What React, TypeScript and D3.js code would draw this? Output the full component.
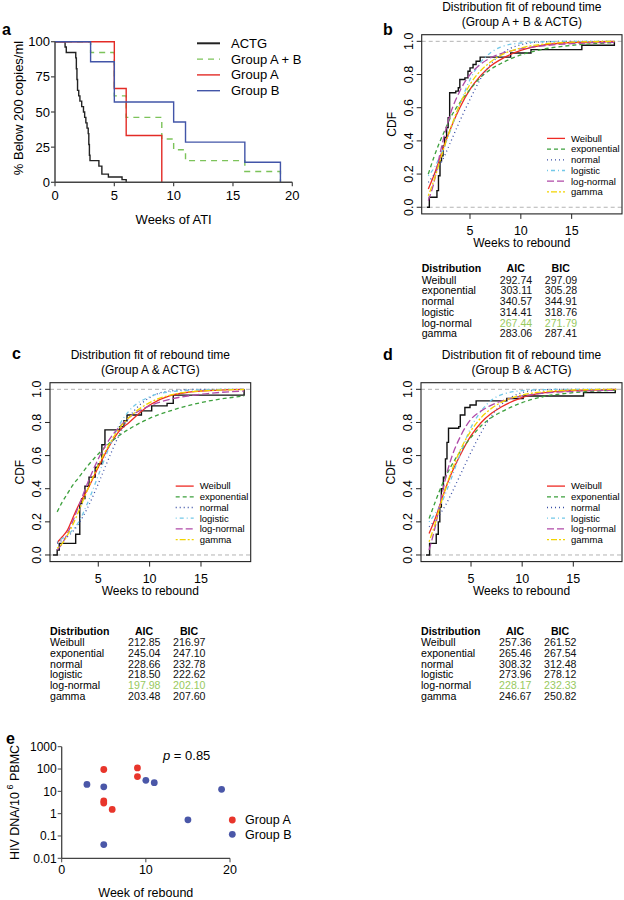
import React from "react";
import * as d3 from "d3";

const FONT = "'Liberation Sans', Arial, Helvetica, sans-serif";

// ---------- panel a : time to rebound (% below 200 copies/ml) ----------
const kmTicksX = [0, 5, 10, 15, 20];
const kmTicksY = [0, 25, 50, 75, 100];
const kmNames = ["ACTG", "Group A + B", "Group A", "Group B"];
const actgWeeks = [0, 0.85, 0.95, 1.75, 1.8, 1.85, 1.9, 2.0, 2.1, 2.25, 2.4, 2.5, 2.6, 2.7, 2.8, 2.85, 2.9, 2.95, 3.7, 3.95, 4.5, 5.65, 6.0];
const actgPct = [100, 96.2, 92.3, 88.5, 80.8, 73.1, 65.4, 61.5, 57.7, 53.8, 50, 46.2, 42.3, 38.5, 34.6, 26.9, 19.2, 15.4, 11.5, 5.8, 3.8, 1.9, 0];
const abWeeks = [0, 3, 5, 6, 9, 10, 11, 16, 19];
const abPct = [100, 92.3, 61.5, 46.2, 30.8, 23.1, 15.4, 7.7, 0];
const groupAWeeks = [0, 5, 6, 9];
const groupAPct = [100, 66.7, 33.3, 0];
const groupBWeeks = [0, 3, 5, 10, 11, 16, 19];
const groupBPct = [100, 85.7, 57.1, 42.9, 28.6, 14.3, 0];

// ---------- panels b, c, d : distribution fits ----------
const distNames = ["Weibull", "exponential", "normal", "logistic", "log-normal", "gamma"];
const cdfTicksY = [0, 0.2, 0.4, 0.6, 0.8, 1.0];
const cdfTicksX = [5, 10, 15];
const fitWeeks = [0.9, 1.5, 2, 2.5, 3, 4, 5, 6, 7, 8, 10, 12, 15, 19.2];
const fitWeeksC = [1, 1.5, 2, 2.5, 3, 4, 5, 6, 7, 8, 10, 12, 15, 19.2];

// b: Group A + B & ACTG
const ecdfWeeksB = [0.75, 1.0, 1.75, 1.9, 2.05, 2.2, 2.35, 2.5, 2.7, 2.85, 3.0, 3.6, 3.85, 4.0, 4.5, 4.8, 5.0, 5.3, 5.6, 6.0, 9.0, 11.0, 16.0, 19.2];
const ecdfB = [0, 0.06, 0.1, 0.19, 0.28, 0.31, 0.37, 0.42, 0.48, 0.54, 0.69, 0.7, 0.72, 0.77, 0.78, 0.82, 0.84, 0.86, 0.88, 0.905, 0.93, 0.95, 0.976, 1.0];
const weibullB = [0.11, 0.2, 0.29, 0.38, 0.46, 0.6, 0.71, 0.79, 0.85, 0.89, 0.945, 0.975, 0.993, 0.999];
const expB = [0.2, 0.31, 0.39, 0.46, 0.53, 0.63, 0.71, 0.78, 0.83, 0.865, 0.918, 0.95, 0.976, 0.992];
const normalB = [0.15, 0.2, 0.25, 0.31, 0.38, 0.52, 0.65, 0.77, 0.86, 0.92, 0.98, 0.996, 1, 1];
const logisticB = [0.19, 0.24, 0.3, 0.37, 0.45, 0.62, 0.77, 0.87, 0.93, 0.965, 0.99, 0.997, 1, 1];
const lognormB = [0.04, 0.16, 0.31, 0.44, 0.55, 0.7, 0.8, 0.86, 0.9, 0.925, 0.955, 0.972, 0.986, 0.994];
const gammaB = [0.07, 0.17, 0.27, 0.37, 0.46, 0.62, 0.74, 0.82, 0.875, 0.915, 0.96, 0.982, 0.995, 1];
const aicB = ["292.74", "303.11", "340.57", "314.41", "267.44", "283.06"];
const bicB = ["297.09", "305.28", "344.91", "318.76", "271.79", "287.41"];

// c: Group A & ACTG
const ecdfWeeksC = [0.6, 1.0, 1.2, 2.8, 3.2, 3.4, 3.7, 4.1, 4.7, 5.0, 5.35, 5.65, 7.1, 7.5, 7.8, 9.2, 10.2, 11.7, 12.3, 19.2];
const ecdfC = [0, 0.03, 0.07, 0.125, 0.31, 0.34, 0.415, 0.47, 0.53, 0.55, 0.665, 0.755, 0.775, 0.81, 0.845, 0.87, 0.9, 0.915, 0.965, 1.0];
const weibullC = [0.075, 0.11, 0.15, 0.22, 0.29, 0.4, 0.53, 0.65, 0.745, 0.8, 0.905, 0.962, 0.99, 1];
const expC = [0.26, 0.32, 0.37, 0.42, 0.46, 0.54, 0.61, 0.67, 0.72, 0.76, 0.825, 0.87, 0.92, 0.96];
const normalC = [0.07, 0.09, 0.11, 0.14, 0.18, 0.29, 0.43, 0.58, 0.72, 0.83, 0.95, 0.99, 1, 1];
const logisticC = [0.08, 0.1, 0.12, 0.15, 0.19, 0.32, 0.48, 0.64, 0.78, 0.87, 0.955, 0.985, 0.997, 1];
const lognormC = [0.03, 0.07, 0.13, 0.2, 0.28, 0.44, 0.58, 0.69, 0.77, 0.83, 0.9, 0.94, 0.97, 0.99];
const gammaC = [0.04, 0.07, 0.12, 0.18, 0.25, 0.4, 0.54, 0.66, 0.76, 0.83, 0.92, 0.965, 0.99, 0.999];
const aicC = ["212.85", "245.04", "228.66", "218.50", "197.98", "203.48"];
const bicC = ["216.97", "247.10", "232.78", "222.62", "202.10", "207.60"];

// d: Group B & ACTG
const ecdfWeeksD = [0.6, 0.95, 1.6, 1.8, 1.95, 2.1, 2.3, 2.5, 2.65, 2.8, 3.8, 3.95, 4.4, 4.9, 5.5, 8.5, 10.1, 16.0, 19.1];
const ecdfD = [0, 0.07, 0.125, 0.2, 0.29, 0.4, 0.47, 0.58, 0.68, 0.765, 0.775, 0.845, 0.89, 0.905, 0.93, 0.945, 0.96, 0.98, 1.0];
const weibullD = [0.13, 0.22, 0.31, 0.4, 0.48, 0.61, 0.72, 0.8, 0.855, 0.895, 0.95, 0.978, 0.993, 0.999];
const expD = [0.22, 0.32, 0.4, 0.47, 0.53, 0.63, 0.71, 0.78, 0.83, 0.865, 0.92, 0.955, 0.98, 0.994];
const normalD = [0.17, 0.21, 0.25, 0.3, 0.36, 0.49, 0.62, 0.74, 0.84, 0.91, 0.98, 0.997, 1, 1];
const logisticD = [0.2, 0.25, 0.3, 0.37, 0.45, 0.62, 0.77, 0.87, 0.935, 0.968, 0.992, 0.998, 1, 1];
const lognormD = [0.03, 0.17, 0.32, 0.46, 0.57, 0.72, 0.82, 0.87, 0.905, 0.93, 0.96, 0.976, 0.988, 0.995];
const gammaD = [0.08, 0.19, 0.3, 0.4, 0.49, 0.64, 0.75, 0.83, 0.885, 0.923, 0.966, 0.985, 0.996, 1];
const aicD = ["257.36", "265.46", "308.32", "273.96", "228.17", "246.67"];
const bicD = ["261.52", "267.54", "312.48", "278.12", "232.33", "250.82"];

// ---------- panel e : HIV DNA vs week of rebound ----------
const eTicksX = [0, 10, 20];
const eTicksY = [0.01, 0.1, 1, 10, 100, 1000];
const eTickLabels = ["0.01", "0.1", "1", "10", "100", "1000"];
const groupNames = ["Group A", "Group B"];
const aWeeks = [5, 5, 5, 6, 9, 9];
const aDna = [95, 3.7, 3.0, 1.55, 112, 46];
const bWeeks = [3, 5, 5, 10, 11, 15, 19];
const bDna = [20.5, 16, 0.041, 31, 24.5, 0.53, 12.3];

const distColors = ["#ee2a24", "#3da03d", "#3a4fa6", "#72c8e8", "#b04aa8", "#f2d400"];
const distDash = ["", "4 3", "1 3", "1 3 4 3", "7 3", "2 2 6 2"];
const kmColors = ["#222222", "#7cc35a", "#e32b26", "#4255a8"];
const kmDash = ["", "6 5", "", ""];
const bestColor = "#98c95e";

type Box = { left: number; right: number; top: number; bottom: number };

function KaplanPanel() {
  const x = d3.scaleLinear([0, 20], [55, 292.3]);
  const y = d3.scaleLinear([0, 100], [182.3, 41.7]);
  const step = d3.line<[number, number]>().x(d => x(d[0])).y(d => y(d[1])).curve(d3.curveStepAfter);
  const series: [number[], number[]][] = [
    [actgWeeks, actgPct],
    [abWeeks, abPct],
    [groupAWeeks, groupAPct],
    [groupBWeeks, groupBPct],
  ];
  return (
    <g fontFamily={FONT}>
      <text x={2} y={35} fontSize={16} fontWeight="bold">a</text>
      {series.map(([w, p], i) => (
        <path key={i} d={step(w.map((v, j) => [v, p[j]]) as [number, number][]) || ""}
          fill="none" stroke={kmColors[i]} strokeWidth={1.4} strokeDasharray={kmDash[i]} />
      ))}
      <line x1={x(0)} x2={x(0)} y1={y(100)} y2={y(0)} stroke="#444" strokeWidth={1.5} />
      <line x1={x(0)} x2={x(20)} y1={y(0)} y2={y(0)} stroke="#444" strokeWidth={1.5} />
      {kmTicksY.map(t => (
        <g key={t}>
          <line x1={x(0) - 4} x2={x(0)} y1={y(t)} y2={y(t)} stroke="#444" strokeWidth={1.2} />
          <text x={x(0) - 5} y={y(t)} dy="0.35em" textAnchor="end" fontSize={13}>{t}</text>
        </g>
      ))}
      {kmTicksX.map(t => (
        <g key={t}>
          <line x1={x(t)} x2={x(t)} y1={y(0)} y2={y(0) + 4} stroke="#444" strokeWidth={1.2} />
          <text x={x(t)} y={y(0) + 18} textAnchor="middle" fontSize={13}>{t}</text>
        </g>
      ))}
      <text x={x(10)} y={224} textAnchor="middle" fontSize={13}>Weeks of ATI</text>
      <text transform={`translate(18,${(y(0) + y(100)) / 2 - 4}) rotate(-90)`} textAnchor="middle" dominantBaseline="central" fontSize={13}>% Below 200 copies/ml</text>
      {kmNames.map((n, i) => (
        <g key={n}>
          <line x1={197} x2={220} y1={43.3 + i * 15.8} y2={43.3 + i * 15.8} stroke={kmColors[i]} strokeWidth={i === 0 ? 2 : 1.4} strokeDasharray={kmDash[i]} />
          <text x={231} y={43.3 + i * 15.8} dy="0.35em" fontSize={13}>{n}</text>
        </g>
      ))}
    </g>
  );
}

function CdfPanel(props: {
  box: Box; xDomain: [number, number]; ecdfWeeks: number[]; ecdf: number[];
  grid: number[]; fits: number[][]; subtitle: string; letter: string; letterX: number; letterY: number;
  titleY: number; aic: string[]; bic: string[]; tableY: number;
}) {
  const { box, xDomain, ecdfWeeks, ecdf, grid, fits, subtitle, letter, letterX, letterY, titleY, aic, bic, tableY } = props;
  const x = d3.scaleLinear(xDomain, [box.left, box.right]);
  const y = d3.scaleLinear([-0.04, 1.04], [box.bottom, box.top]);
  const step = d3.line<[number, number]>().x(d => x(d[0])).y(d => y(d[1])).curve(d3.curveStepAfter);
  const smooth = d3.line<[number, number]>().x(d => x(d[0])).y(d => y(d[1])).curve(d3.curveMonotoneX);
  const cx = (box.left + box.right) / 2;
  const legX = box.right - 75;
  const legY = box.bottom - 75.5;
  return (
    <g fontFamily={FONT}>
      <text x={letterX} y={letterY} fontSize={16} fontWeight="bold">{letter}</text>
      <text x={cx} y={titleY} textAnchor="middle" fontSize={12}>Distribution fit of rebound time</text>
      <text x={cx} y={titleY + 14.8} textAnchor="middle" fontSize={12}>{subtitle}</text>
      {[0, 1].map(v => (
        <line key={v} x1={box.left} x2={box.right} y1={y(v)} y2={y(v)} stroke="#aaa" strokeWidth={0.9} strokeDasharray="4 3" />
      ))}
      <path d={step(ecdfWeeks.map((w, i) => [w, ecdf[i]]) as [number, number][]) || ""} fill="none" stroke="#111" strokeWidth={1.4} />
      {fits.map((f, k) => (
        <path key={k} d={smooth(grid.map((w, i) => [w, f[i]]) as [number, number][]) || ""}
          fill="none" stroke={distColors[k]} strokeWidth={1.3} strokeDasharray={distDash[k]} />
      ))}
      <rect x={box.left} y={box.top} width={box.right - box.left} height={box.bottom - box.top} fill="none" stroke="#222" strokeWidth={1.1} />
      {cdfTicksX.map(t => (
        <g key={t}>
          <line x1={x(t)} x2={x(t)} y1={box.bottom} y2={box.bottom + 5} stroke="#222" />
          <text x={x(t)} y={box.bottom + 21} textAnchor="middle" fontSize={12.5}>{t}</text>
        </g>
      ))}
      {cdfTicksY.map(t => (
        <g key={t}>
          <line x1={box.left - 5} x2={box.left} y1={y(t)} y2={y(t)} stroke="#222" />
          <text transform={`translate(${box.left - 13},${y(t)}) rotate(-90)`} textAnchor="middle" dominantBaseline="central" fontSize={12.5}>{t.toFixed(1)}</text>
        </g>
      ))}
      <text transform={`translate(${box.left - 30},${(box.top + box.bottom) / 2}) rotate(-90)`} textAnchor="middle" dominantBaseline="central" fontSize={12}>CDF</text>
      <text x={cx} y={box.bottom + 33.5} textAnchor="middle" fontSize={12}>Weeks to rebound</text>
      {distNames.map((n, k) => (
        <g key={n}>
          <line x1={legX} x2={legX + 18} y1={legY + k * 10.7} y2={legY + k * 10.7} stroke={distColors[k]} strokeWidth={1.3} strokeDasharray={distDash[k]} />
          <text x={legX + 24} y={legY + k * 10.7} dy="0.35em" fontSize={9.5}>{n}</text>
        </g>
      ))}
      <g fontSize={10.6}>
        <text x={box.left} y={tableY + 3.8} fontWeight="bold">Distribution</text>
        <text x={box.left + 94} y={tableY + 3.8} fontWeight="bold" textAnchor="middle">AIC</text>
        <text x={box.left + 139} y={tableY + 3.8} fontWeight="bold" textAnchor="middle">BIC</text>
        {distNames.map((n, k) => {
          const yy = tableY + 15.4 + k * 10.7;
          const col = n === "log-normal" ? bestColor : "#111";
          return (
            <g key={n}>
              <text x={box.left} y={yy}>{n}</text>
              <text x={box.left + 110.5} y={yy} textAnchor="end" fill={col}>{aic[k]}</text>
              <text x={box.left + 155.5} y={yy} textAnchor="end" fill={col}>{bic[k]}</text>
            </g>
          );
        })}
      </g>
    </g>
  );
}

function DnaPanel() {
  const x = d3.scaleLinear([0, 20], [61.7, 230]);
  const y = d3.scaleLog([0.01, 1000], [858.3, 746.7]);
  const groups: [number[], number[]][] = [[aWeeks, aDna], [bWeeks, bDna]];
  const dotColors = ["#e8352b", "#4a57a8"];
  return (
    <g fontFamily={FONT}>
      <text x={6} y={744} fontSize={16} fontWeight="bold">e</text>
      <line x1={x(0)} x2={x(0)} y1={y(1000)} y2={y(0.01)} stroke="#444" strokeWidth={1.3} />
      <line x1={x(0)} x2={x(20)} y1={y(0.01)} y2={y(0.01)} stroke="#444" strokeWidth={1.3} />
      {eTicksY.map((t, i) => (
        <g key={t}>
          <line x1={x(0) - 4} x2={x(0)} y1={y(t)} y2={y(t)} stroke="#444" />
          <text x={x(0) - 5} y={y(t)} dy="0.35em" textAnchor="end" fontSize={12}>{eTickLabels[i]}</text>
        </g>
      ))}
      {eTicksX.map(t => (
        <g key={t}>
          <line x1={x(t)} x2={x(t)} y1={y(0.01)} y2={y(0.01) + 4} stroke="#444" />
          <text x={x(t)} y={y(0.01) + 16} textAnchor="middle" fontSize={12.5}>{t}</text>
        </g>
      ))}
      <text x={x(10)} y={897} textAnchor="middle" fontSize={12.5}>Week of rebound</text>
      <text transform={`translate(15,${(y(0.01) + y(1000)) / 2}) rotate(-90)`} textAnchor="middle" dominantBaseline="central" fontSize={12.5}>
        HIV DNA/10<tspan dy={-5} fontSize={9}> 6</tspan><tspan dy={5}> PBMC</tspan>
      </text>
      {groups.map(([w, v], g) => w.map((wk, i) => (
        <circle key={`${g}-${i}`} cx={x(wk)} cy={y(v[i])} r={3.4} fill={dotColors[g]} />
      )))}
      <text x={163} y={760} fontSize={13}><tspan fontStyle="italic">p</tspan> = 0.85</text>
      {groupNames.map((n, g) => (
        <g key={n}>
          <circle cx={232.3} cy={820 + g * 14.3} r={3.4} fill={dotColors[g]} />
          <text x={245} y={820 + g * 14.3} dy="0.35em" fontSize={12.5}>{n}</text>
        </g>
      ))}
    </g>
  );
}

export default function App() {
  return (
    <svg width={624} height={900} viewBox="0 0 624 900" style={{ position: "absolute", left: 0, top: 0, background: "#fff" }}>
      <rect width={624} height={900} fill="#fff" />
      <KaplanPanel />
      <CdfPanel box={{ left: 421.7, right: 622, top: 34.7, bottom: 213.9 }} xDomain={[0.25, 19.95]}
        ecdfWeeks={ecdfWeeksB} ecdf={ecdfB} grid={fitWeeks}
        fits={[weibullB, expB, normalB, logisticB, lognormB, gammaB]}
        subtitle="(Group A + B & ACTG)" letter="b" letterX={383} letterY={35} titleY={11}
        aic={aicB} bic={bicB} tableY={268.3} />
      <CdfPanel box={{ left: 50, right: 250.7, top: 382.7, bottom: 561.6 }} xDomain={[0.3, 19.84]}
        ecdfWeeks={ecdfWeeksC} ecdf={ecdfC} grid={fitWeeksC}
        fits={[weibullC, expC, normalC, logisticC, lognormC, gammaC]}
        subtitle="(Group A & ACTG)" letter="c" letterX={12} letterY={359} titleY={359}
        aic={aicC} bic={bicC} tableY={630.7} />
      <CdfPanel box={{ left: 421, right: 622, top: 382.7, bottom: 561.6 }} xDomain={[0.11, 19.76]}
        ecdfWeeks={ecdfWeeksD} ecdf={ecdfD} grid={fitWeeks}
        fits={[weibullD, expD, normalD, logisticD, lognormD, gammaD]}
        subtitle="(Group B & ACTG)" letter="d" letterX={383} letterY={360} titleY={359}
        aic={aicD} bic={bicD} tableY={630.7} />
      <DnaPanel />
    </svg>
  );
}
